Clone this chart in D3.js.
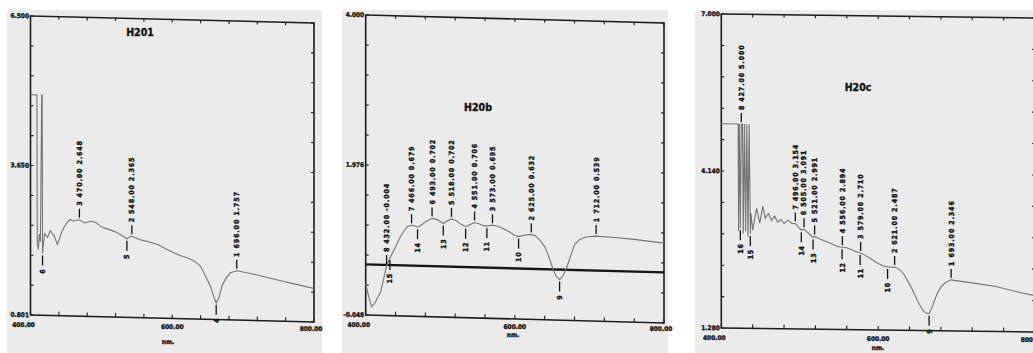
<!DOCTYPE html>
<html>
<head>
<meta charset="utf-8">
<script src="https://cdn.jsdelivr.net/npm/d3@7"></script>
<style>
  body { margin: 0; background: #ffffff; }
  svg { display: block; }
  .lbl { font-family: "DejaVu Sans Condensed", "Liberation Sans Narrow", Arial, sans-serif; font-weight: bold; fill: #111; stroke: #111; stroke-width: 0.35; }
</style>
</head>
<body>
<svg id="chart"></svg>
<script>
const width = 1033;
const height = 353;

// shared axis labels
const xDomain = [400, 800];
const xTickLabels = ["400.00", "600.00", "800.00"];

// ---- H201 ----
const h201Domain = [0.801, 6.5];
const h201YLabels = ["6.500", "3.650", "0.801"];
const h201Spectrum = [
  [400, 5.0], [409, 5.0], [409.6, 2.2], [411, 2.05], [412.5, 2.35], [414, 2.2], [415.8, 5.0], [416.5, 5.0],
  [417, 1.98], [418.5, 2.2], [420, 2.36], [424, 2.29], [428, 2.42], [431, 2.36], [433, 2.33], [438, 2.16],
  [445, 2.43], [452, 2.59], [456, 2.64], [461, 2.61], [465, 2.63], [469, 2.64], [476, 2.58], [481, 2.6],
  [486, 2.62], [493, 2.59], [500, 2.51], [510, 2.47], [519, 2.43], [528, 2.37], [536, 2.3], [540, 2.34],
  [543, 2.35], [550, 2.31], [557, 2.28], [568, 2.25], [580, 2.2], [592, 2.12], [603, 2.05], [612, 2.0],
  [622, 1.96], [632, 1.9], [640, 1.81], [648, 1.6], [654, 1.43], [658, 1.26], [662, 1.12], [666, 1.22],
  [670, 1.44], [676, 1.6], [682, 1.7], [691, 1.74], [700, 1.72], [720, 1.67], [750, 1.58], [775, 1.51], [800, 1.44]
];
const h201PeakAt = [691, 543, 469];
const h201PeakText = ["1  696.00  1.757", "2  548.00  2.365", "3  470.00  2.648"];
const h201ValleyAt = [662, 536, 417];
const h201ValleyText = ["4", "5", "6"];

// ---- H20b ----
const h20bDomain = [-0.048, 4.0];
const h20bYLabels = ["4.000", "1.976", "-0.048"];
const h20bBaseline = 0.635;
const h20bSpectrum = [
  [400, 0.38], [404, 0.2], [408, 0.067], [412, 0.11], [420, 0.27], [428, 0.62], [432.5, 0.73], [440, 0.885],
  [447, 1.03], [452, 1.11], [456, 1.16], [461.5, 1.18], [466, 1.17], [469.5, 1.155], [474, 1.18], [480, 1.23],
  [489, 1.28], [496, 1.265], [504, 1.215], [509, 1.25], [515, 1.28], [521, 1.26], [528, 1.21], [534, 1.18],
  [540, 1.21], [546, 1.24], [552, 1.225], [558, 1.2], [562.5, 1.195], [566, 1.205], [570, 1.21], [576, 1.2],
  [584, 1.17], [592, 1.13], [599, 1.085], [605, 1.065], [612, 1.085], [622, 1.1], [628, 1.08], [634, 1.02],
  [640, 0.94], [645, 0.82], [650, 0.674], [655, 0.55], [660, 0.5], [665, 0.56], [670, 0.68], [675, 0.83],
  [680, 0.975], [687, 1.05], [695, 1.085], [709, 1.1], [730, 1.09], [760, 1.07], [800, 1.03]
];
const h20bPeakAt = [709, 622, 570, 546, 515, 489, 461.5, 428];
const h20bPeakText = ["1  712.00  0.539", "2  625.00  0.632", "3  573.00  0.695", "4  551.00  0.706",
  "5  518.00  0.702", "6  493.00  0.702", "7  466.00  0.679", "8  432.00  -0.004"];
const h20bValleyAt = [660, 605, 562.5, 534, 504, 469.5, 432.5];
const h20bValleyText = ["9", "10", "11", "12", "13", "14", "15"];

// ---- H20c ----
const h20cDomain = [1.28, 7.0];
const h20cYLabels = ["7.000", "4.140", "1.280"];
const h20cSpectrum = [
  [400, 5.0], [421.5, 5.0], [422, 3.05], [423, 5.0], [424.3, 3.1], [425.5, 5.0], [427, 5.0], [428, 3.0],
  [429.5, 5.0], [431, 3.05], [432.5, 5.0], [434, 2.95], [435.5, 5.0], [437, 3.0], [437.8, 3.38], [440, 3.07],
  [445, 3.47], [449, 3.2], [453, 3.51], [456, 3.29], [460, 3.38], [464, 3.25], [468, 3.33], [472, 3.22],
  [476, 3.27], [480, 3.2], [485, 3.26], [490, 3.2], [494.4, 3.2], [498, 3.14], [502, 3.08], [505.5, 3.1],
  [510, 3.04], [517, 2.95], [519, 2.97], [525, 2.93], [532, 2.89], [540, 2.845], [548, 2.79], [554, 2.78],
  [560, 2.77], [567, 2.73], [572, 2.7], [577, 2.68], [582, 2.65], [590, 2.58], [600, 2.49], [606, 2.45],
  [612, 2.43], [621, 2.43], [627, 2.39], [632, 2.32], [637, 2.2], [642, 2.07], [647, 1.92], [652, 1.77],
  [657, 1.65], [661, 1.6], [665, 1.59], [670, 1.75], [675, 1.95], [680, 2.08], [686, 2.16], [693, 2.21],
  [720, 2.16], [750, 2.1], [780, 2.0], [800, 1.94]
];
const h20cPeakAt = [693, 621, 577.7, 554.4, 519, 505.5, 494.4, 425.5];
const h20cPeakText = ["1  693.00  2.346", "2  621.00  2.487", "3  579.00  2.710", "4  556.00  2.894",
  "5  521.00  2.991", "6  505.00  3.091", "7  496.00  3.154", "8  427.00  5.000"];
const h20cValleyAt = [665, 612, 577, 554, 517, 502, 437, 424.3];
const h20cValleyText = ["9", "10", "11", "12", "13", "14", "15", "16"];

// panel boxes (page pixels), skew is the drop of the right edge
const panels = [
  { title: "H201", spectrum: h201Spectrum, yDomain: h201Domain, yLabels: h201YLabels,
    peakAt: h201PeakAt, peakText: h201PeakText, valleyAt: h201ValleyAt, valleyText: h201ValleyText,
    left: 30.5, right: 314, top: 16, bottom: 315, skew: 7, bg: [7, 322], titleAt: [140, 36], nmAt: [168, 344] },
  { title: "H20b", spectrum: h20bSpectrum, yDomain: h20bDomain, yLabels: h20bYLabels, baseline: h20bBaseline,
    peakAt: h20bPeakAt, peakText: h20bPeakText, valleyAt: h20bValleyAt, valleyText: h20bValleyText,
    left: 365.7, right: 664, top: 15, bottom: 315, skew: 8, bg: [342, 668], titleAt: [478, 111], nmAt: [513, 337] },
  { title: "H20c", spectrum: h20cSpectrum, yDomain: h20cDomain, yLabels: h20cYLabels,
    peakAt: h20cPeakAt, peakText: h20cPeakText, valleyAt: h20cValleyAt, valleyText: h20cValleyText,
    left: 721.3, right: 1035, top: 14, bottom: 328, skew: 4, bg: [695, 1033], titleAt: [858, 91], nmAt: [878, 350] }
];

const svg = d3.select("#chart").attr("width", width).attr("height", height);

// find the curve extreme near a wavelength
function extremeNear(spec, x, pick) {
  const near = spec.filter((d) => Math.abs(d[0] - x) <= 1.6);
  if (near.length) return pick(near, (d) => d[1]);
  const i = d3.bisector((d) => d[0]).left(spec, x);
  const a = spec[Math.max(0, i - 1)], b = spec[Math.min(spec.length - 1, i)];
  const t = b[0] === a[0] ? 0 : (x - a[0]) / (b[0] - a[0]);
  return a[1] + t * (b[1] - a[1]);
}

function drawPanel(p) {
  svg.append("rect")
    .attr("x", p.bg[0]).attr("y", 10)
    .attr("width", p.bg[1] - p.bg[0]).attr("height", height - 10)
    .attr("fill", "#ebebeb");

  const x = d3.scaleLinear().domain(xDomain).range([p.left, p.right]);
  const y = d3.scaleLinear().domain(p.yDomain).range([p.bottom, p.top]);
  const angle = Math.atan(p.skew / (p.right - p.left)) * 180 / Math.PI;

  const g = svg.append("g")
    .attr("transform", `translate(${p.left},0) skewY(${angle}) translate(${-p.left},0)`);

  // frame
  g.append("rect")
    .attr("x", p.left).attr("y", p.top)
    .attr("width", p.right - p.left).attr("height", p.bottom - p.top)
    .attr("fill", "none").attr("stroke", "#1c1c1c").attr("stroke-width", 1.6);

  // inward ticks, 10 intervals each way
  const xt = d3.range(xDomain[0], xDomain[1] + 1, 40);
  const yt = d3.range(11).map((i) => p.yDomain[0] + i * (p.yDomain[1] - p.yDomain[0]) / 10);
  g.selectAll(".xtb").data(xt).enter().append("line")
    .attr("x1", (d) => x(d)).attr("x2", (d) => x(d))
    .attr("y1", p.bottom).attr("y2", p.bottom - 4)
    .attr("stroke", "#1c1c1c").attr("stroke-width", 1.1);
  g.selectAll(".xtt").data(xt).enter().append("line")
    .attr("x1", (d) => x(d)).attr("x2", (d) => x(d))
    .attr("y1", p.top).attr("y2", p.top + 3)
    .attr("stroke", "#1c1c1c").attr("stroke-width", 1.1);
  g.selectAll(".ytl").data(yt).enter().append("line")
    .attr("x1", p.left).attr("x2", p.left + 3)
    .attr("y1", (d) => y(d)).attr("y2", (d) => y(d))
    .attr("stroke", "#1c1c1c").attr("stroke-width", 1.1);
  g.selectAll(".ytr").data(yt).enter().append("line")
    .attr("x1", p.right).attr("x2", p.right - 3)
    .attr("y1", (d) => y(d)).attr("y2", (d) => y(d))
    .attr("stroke", "#1c1c1c").attr("stroke-width", 1.1);

  // y labels at top / middle / bottom
  const yLabelVals = [p.yDomain[1], (p.yDomain[0] + p.yDomain[1]) / 2, p.yDomain[0]];
  g.selectAll(".ylab").data(p.yLabels).enter().append("text")
    .attr("class", "lbl")
    .attr("x", p.left - 1.5).attr("y", (d, i) => y(yLabelVals[i]))
    .attr("dy", "0.35em").attr("text-anchor", "end")
    .attr("font-size", 6.5).text((d) => d);

  if (p.baseline !== undefined) {
    g.append("line")
      .attr("x1", p.left).attr("x2", p.right)
      .attr("y1", y(p.baseline)).attr("y2", y(p.baseline))
      .attr("stroke", "#151515").attr("stroke-width", 2.4);
  }

  // spectrum
  const line = d3.line().x((d) => x(d[0])).y((d) => y(d[1]));
  g.append("path").datum(p.spectrum)
    .attr("d", line)
    .attr("fill", "none").attr("stroke", "#747474").attr("stroke-width", 1.1);

  // peak markers
  p.peakAt.forEach((w, i) => {
    const cy = y(extremeNear(p.spectrum, w, d3.max));
    g.append("line")
      .attr("x1", x(w)).attr("x2", x(w)).attr("y1", cy - 2).attr("y2", cy - 11)
      .attr("stroke", "#111").attr("stroke-width", 1.3);
    g.append("text").attr("class", "lbl")
      .attr("transform", `translate(${x(w)},${cy - 14}) rotate(-90)`)
      .attr("dy", "0.35em").attr("font-size", 7).attr("letter-spacing", 0.9)
      .text(p.peakText[i]);
  });

  // valley markers
  p.valleyAt.forEach((w, i) => {
    const cy = y(extremeNear(p.spectrum, w, d3.min));
    g.append("line")
      .attr("x1", x(w)).attr("x2", x(w)).attr("y1", cy + 2).attr("y2", cy + 12)
      .attr("stroke", "#111").attr("stroke-width", 1.3);
    g.append("text").attr("class", "lbl")
      .attr("transform", `translate(${x(w)},${cy + 15}) rotate(-90)`)
      .attr("dy", "0.35em").attr("text-anchor", "end")
      .attr("font-size", 7).attr("letter-spacing", 0.8)
      .text(p.valleyText[i]);
  });

  // x labels, title, unit (page space)
  const xLabelVals = [400, 600, 800];
  const xOff = [-7, 0, -3];
  svg.selectAll(null).data(xTickLabels).enter().append("text")
    .attr("class", "lbl")
    .attr("x", (d, i) => x(xLabelVals[i]) + xOff[i])
    .attr("y", (d, i) => p.bottom + 12 + i * p.skew * 0.25)
    .attr("text-anchor", "middle").attr("font-size", 6.5)
    .text((d) => d);

  svg.append("text").attr("class", "lbl")
    .attr("x", p.nmAt[0]).attr("y", p.nmAt[1])
    .attr("text-anchor", "middle").attr("font-size", 6.5).text("nm.");

  svg.append("text").attr("class", "lbl")
    .attr("x", p.titleAt[0]).attr("y", p.titleAt[1])
    .attr("text-anchor", "middle").attr("font-size", 10.5).text(p.title);
}

panels.forEach(drawPanel);
</script>
</body>
</html>
